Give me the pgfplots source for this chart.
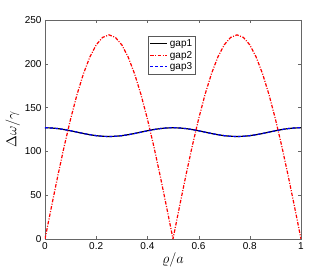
\documentclass[border=0pt]{standalone}
\usepackage{pgfplots}
\pgfplotsset{compat=1.18}
\usepackage{fontspec}
\setmainfont{Liberation Sans}
\begin{document}
\begin{tikzpicture}[x=1pt,y=1pt]
\begin{axis}[
  scale only axis, width=256pt, height=219pt,
  xmin=0, xmax=1, ymin=0, ymax=250,
  xtick={0,0.2,0.4,0.6,0.8,1}, ytick={0,50,100,150,200,250},
  xticklabels={0,0.2,0.4,0.6,0.8,1},
  tick align=inside, tick pos=both,
  major tick length=3pt,
  axis line style={gray!80!black},
  tick style={gray!80!black},
  every tick label/.append style={font=\fontsize{10}{12}\selectfont},
  /pgf/number format/assume math mode=true,
  xlabel={$\varrho/a$}, ylabel={$\Delta\omega/\gamma$},
  label style={font=\fontsize{14}{16}\selectfont},
  xlabel style={yshift=4pt},
  ylabel style={yshift=-2pt},
  legend style={at={(rel axis cs:0.402,0.927)}, anchor=north west, font=\fontsize{10}{11}\selectfont, draw=gray!70!black, inner sep=1.5pt, row sep=-1pt},
  legend cell align=left,
  legend image post style={line width=1.2pt},
]
\addplot[black, line width=1.2pt] coordinates {
(0,127)(0.025,126.76)(0.05,126.05)(0.075,124.94)(0.1,123.55)(0.125,122)(0.15,120.45)(0.175,119.06)(0.2,117.95)(0.225,117.24)(0.25,117)
(0.275,117.24)(0.3,117.95)(0.325,119.06)(0.35,120.45)(0.375,122)(0.4,123.55)(0.425,124.94)(0.45,126.05)(0.475,126.76)(0.5,127)
(0.525,126.76)(0.55,126.05)(0.575,124.94)(0.6,123.55)(0.625,122)(0.65,120.45)(0.675,119.06)(0.7,117.95)(0.725,117.24)(0.75,117)
(0.775,117.24)(0.8,117.95)(0.825,119.06)(0.85,120.45)(0.875,122)(0.9,123.55)(0.925,124.94)(0.95,126.05)(0.975,126.76)(1,127)
};
\addlegendentry{gap1}
\addplot[red, line width=1.2pt, dash pattern=on 3.5pt off 1.5pt on 1pt off 1.5pt] coordinates {
(0,0)(0.025,36.4)(0.05,72.0)(0.075,105.8)(0.1,137.0)(0.125,164.8)(0.15,188.5)(0.175,207.6)(0.2,221.6)(0.225,230.1)(0.25,233)
(0.275,230.1)(0.3,221.6)(0.325,207.6)(0.35,188.5)(0.375,164.8)(0.4,137.0)(0.425,105.8)(0.45,72.0)(0.475,36.4)(0.5,0)
(0.525,36.4)(0.55,72.0)(0.575,105.8)(0.6,137.0)(0.625,164.8)(0.65,188.5)(0.675,207.6)(0.7,221.6)(0.725,230.1)(0.75,233)
(0.775,230.1)(0.8,221.6)(0.825,207.6)(0.85,188.5)(0.875,164.8)(0.9,137.0)(0.925,105.8)(0.95,72.0)(0.975,36.4)(1,0)
};
\addlegendentry{gap2}
\addplot[blue, line width=1.2pt, dash pattern=on 3pt off 2pt] coordinates {
(0,127)(0.025,126.76)(0.05,126.05)(0.075,124.94)(0.1,123.55)(0.125,122)(0.15,120.45)(0.175,119.06)(0.2,117.95)(0.225,117.24)(0.25,117)
(0.275,117.24)(0.3,117.95)(0.325,119.06)(0.35,120.45)(0.375,122)(0.4,123.55)(0.425,124.94)(0.45,126.05)(0.475,126.76)(0.5,127)
(0.525,126.76)(0.55,126.05)(0.575,124.94)(0.6,123.55)(0.625,122)(0.65,120.45)(0.675,119.06)(0.7,117.95)(0.725,117.24)(0.75,117)
(0.775,117.24)(0.8,117.95)(0.825,119.06)(0.85,120.45)(0.875,122)(0.9,123.55)(0.925,124.94)(0.95,126.05)(0.975,126.76)(1,127)
};
\addlegendentry{gap3}
\end{axis}
\useasboundingbox ([xshift=-45pt,yshift=-30.3pt]current axis.south west) rectangle ([xshift=31pt,yshift=20pt]current axis.north east);
\end{tikzpicture}
\end{document}
